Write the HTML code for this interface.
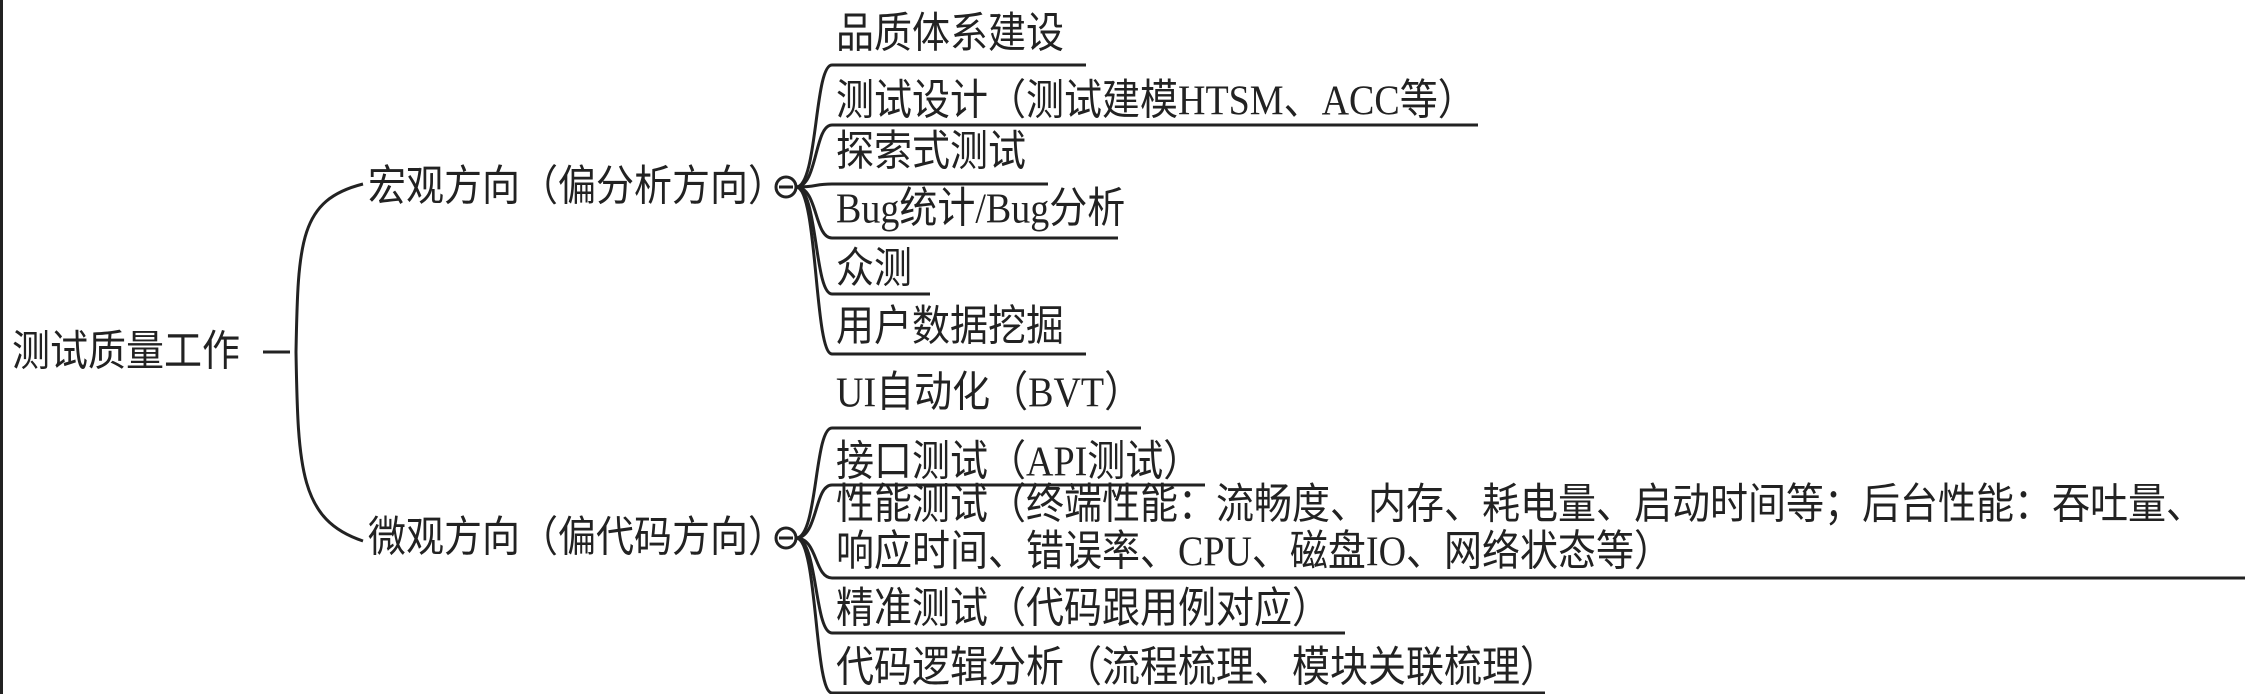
<!DOCTYPE html>
<html><head><meta charset="utf-8"><style>
html,body{margin:0;padding:0;background:#fff;}
#c{position:relative;width:2250px;height:694px;overflow:hidden;background:#fff;}
.t{position:absolute;font-family:"Liberation Serif","Noto Sans CJK SC",sans-serif;font-size:38px;line-height:50px;color:#222;white-space:nowrap;transform:scaleY(1.12);transform-origin:left center;}
svg{position:absolute;left:0;top:0;}
</style></head><body><div id="c">
<svg width="2250" height="694" fill="none" stroke="#222" stroke-width="3">
<line x1="1.5" y1="0" x2="1.5" y2="694"/>
<line x1="263" y1="352" x2="290" y2="352"/>
<path d="M363,184 C300,200 298,240 296,352 C298,470 300,520 363,541"/>
<circle cx="786" cy="187" r="10"/><line x1="779" y1="187" x2="793" y2="187"/>
<circle cx="786" cy="538" r="10"/><line x1="779" y1="538" x2="793" y2="538"/>
<g>
<path d="M796,187 C818,187 814,65 832,65 L1086,65"/>
<path d="M796,187 C818,187 814,125 832,125 L1478,125"/>
<path d="M796,187 C818,187 814,184 832,184 L1048,184"/>
<path d="M796,187 C818,187 814,238 832,238 L1118,238"/>
<path d="M796,187 C818,187 814,294 832,294 L930,294"/>
<path d="M796,187 C818,187 814,354 832,354 L1086,354"/>
<path d="M796,538 C818,538 814,428 832,428 L1141,428"/>
<path d="M796,538 C818,538 814,485 832,485 L1205,485"/>
<path d="M796,538 C818,538 814,578 832,578 L2245,578"/>
<path d="M796,538 C818,538 814,633 832,633 L1345,633"/>
<path d="M796,538 C818,538 814,693 832,693 L1545,693"/>
</g>
</svg>
<div class="t" style="left:12px;top:327px;">测试质量工作</div>
<div class="t" style="left:368px;top:162px;">宏观方向（偏分析方向）</div>
<div class="t" style="left:368px;top:513px;">微观方向（偏代码方向）</div>
<div class="t" style="left:836px;top:9px;">品质体系建设</div>
<div class="t" style="left:836px;top:76px;">测试设计（测试建模HTSM、ACC等）</div>
<div class="t" style="left:836px;top:127px;">探索式测试</div>
<div class="t" style="left:836px;top:184px;">Bug统计/Bug分析</div>
<div class="t" style="left:836px;top:244px;">众测</div>
<div class="t" style="left:836px;top:302px;">用户数据挖掘</div>
<div class="t" style="left:836px;top:368px;">UI自动化（BVT）</div>
<div class="t" style="left:836px;top:437px;">接口测试（API测试）</div>
<div class="t" style="left:836px;top:480px;">性能测试（终端性能：流畅度、内存、耗电量、启动时间等；后台性能：吞吐量、</div>
<div class="t" style="left:836px;top:527px;">响应时间、错误率、CPU、磁盘IO、网络状态等）</div>
<div class="t" style="left:836px;top:584px;">精准测试（代码跟用例对应）</div>
<div class="t" style="left:836px;top:643px;">代码逻辑分析（流程梳理、模块关联梳理）</div>
</div></body></html>
